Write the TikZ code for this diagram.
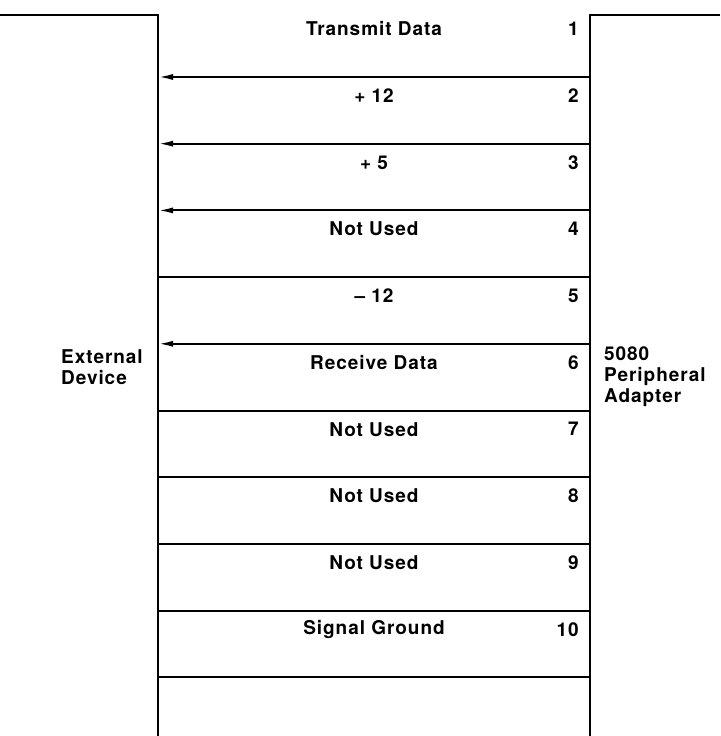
\documentclass[tikz,border=0pt]{standalone}
\usepackage{fontspec}
\setmainfont{TeX Gyre Heros}[LetterSpace=5]
\usetikzlibrary{arrows.meta}
\tikzset{wall/.style={line width=2pt},
         wire/.style={line width=2pt},
         sig/.style={wire,-{Latex[length=15pt,width=6pt]}},
         lbl/.style={font=\bfseries\fontsize{19}{21}\selectfont,inner sep=0pt},
         pin/.style={lbl,anchor=east},
         side/.style={lbl,align=left,anchor=west}}

\begin{document}
\begin{tikzpicture}[x=1pt,y=-1pt]
\useasboundingbox (0,0) rectangle (720,736);
% connector walls
\coordinate (ltop) at (158,15);
\coordinate (lbot) at (158,736);
\coordinate (rtop) at (590,15);
\coordinate (rbot) at (590,736);
\coordinate (lend) at (0,15);
\coordinate (rend) at (720,15);
\draw[wall] (lend) -- (ltop) -- (lbot);
\draw[wall] (rend) -- (rtop) -- (rbot);
\node[side] (ext) at (61,367) {External\\Device};
\node[side] (pa) at (604,377) {5080\\Peripheral\\Adapter};
% pins
\foreach \i/\txt/\st in {1/Transmit Data/sig, 2/+ 12/sig, 3/+ 5/sig,
    4/Not Used/wire, 5/-- 12/sig, 6/Receive Data/wire, 7/Not Used/wire,
    8/Not Used/wire, 9/Not Used/wire, 10/Signal Ground/wire}{
  \coordinate (r\i) at (590,{77+66.7*(\i-1)});
  \coordinate (l\i) at (158,{77+66.7*(\i-1)});
  \draw[\st] (r\i) -- (l\i);
  \node[lbl] (t\i) at (374,{29+66.7*(\i-1)}) {\txt};
  \node[pin] (n\i) at (579,{29+66.7*(\i-1)}) {\i};
}
\end{tikzpicture}
\end{document}
